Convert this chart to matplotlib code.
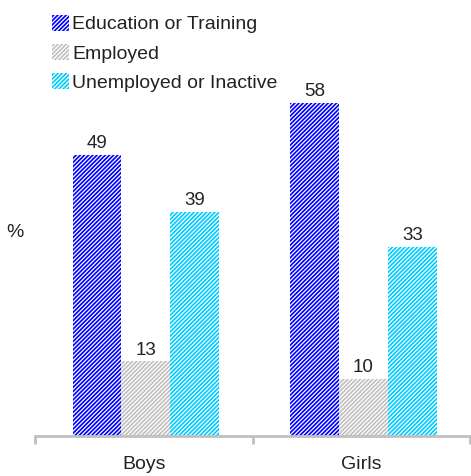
import matplotlib
matplotlib.use("Agg")
import matplotlib.pyplot as plt
import numpy as np

categories = ["Boys", "Girls"]
series_names = ["Education or Training", "Employed", "Unemployed or Inactive"]
education = [49, 58]
employed = [13, 10]
unemployed = [39, 33]

colors = ["#0000FF", "#C0C0C0", "#00CCFF"]
plt.rcParams['font.family'] = ['Liberation Sans', 'DejaVu Sans']
plt.rcParams['hatch.linewidth'] = 0.9
plt.rcParams['hatch.color'] = 'white'

fig = plt.figure(figsize=(4.71, 4.76), dpi=100)
ax = fig.add_axes([35/471, 40/476, 435/471, (436-91.6)/476])

x = np.arange(len(categories))
w = 0.225
series = [education, employed, unemployed]
offsets = [-w, 0, w]
for vals, off, c, name in zip(series, offsets, colors, series_names):
    bars = ax.bar(x + off + 0.01, vals, w, color=c, edgecolor='white', linewidth=0,
                  hatch='////////', label=name)
    for b, v in zip(bars, vals):
        ax.text(b.get_x() + b.get_width()/2, v + 0.5, str(v), ha='center', va='bottom',
                fontsize=13.5, color='#222222', clip_on=False)

ax.set_xlim(-0.5, 1.5)
ax.set_ylim(0, 60)
ax.set_yticks([])
for s in ['top', 'right', 'left']:
    ax.spines[s].set_visible(False)
ax.spines['bottom'].set_color('#C0C0C0')
ax.spines['bottom'].set_linewidth(2)
ax.set_xticks([-0.5, 0.5, 1.5])
ax.set_xticklabels([])
ax.tick_params(axis='x', length=6, width=2, color='#C0C0C0', direction='out')
for xi, cat in zip(x, categories):
    ax.text(xi, -5.0, cat, ha='center', va='center', fontsize=14, color='#222222')

fig.text(15/471, 1 - 232/476, "%", ha='center', va='center', fontsize=14, color='#222222')

leg = ax.legend(loc='upper left', bbox_to_anchor=(52/471, 1 - 15/476), bbox_transform=fig.transFigure,
                frameon=False, fontsize=14, handlelength=0.85, handleheight=0.85,
                handletextpad=0.2, labelspacing=0.55, borderaxespad=0, borderpad=0)
for t in leg.get_texts():
    t.set_color('#222222')

fig.savefig("out.png", dpi=100)
